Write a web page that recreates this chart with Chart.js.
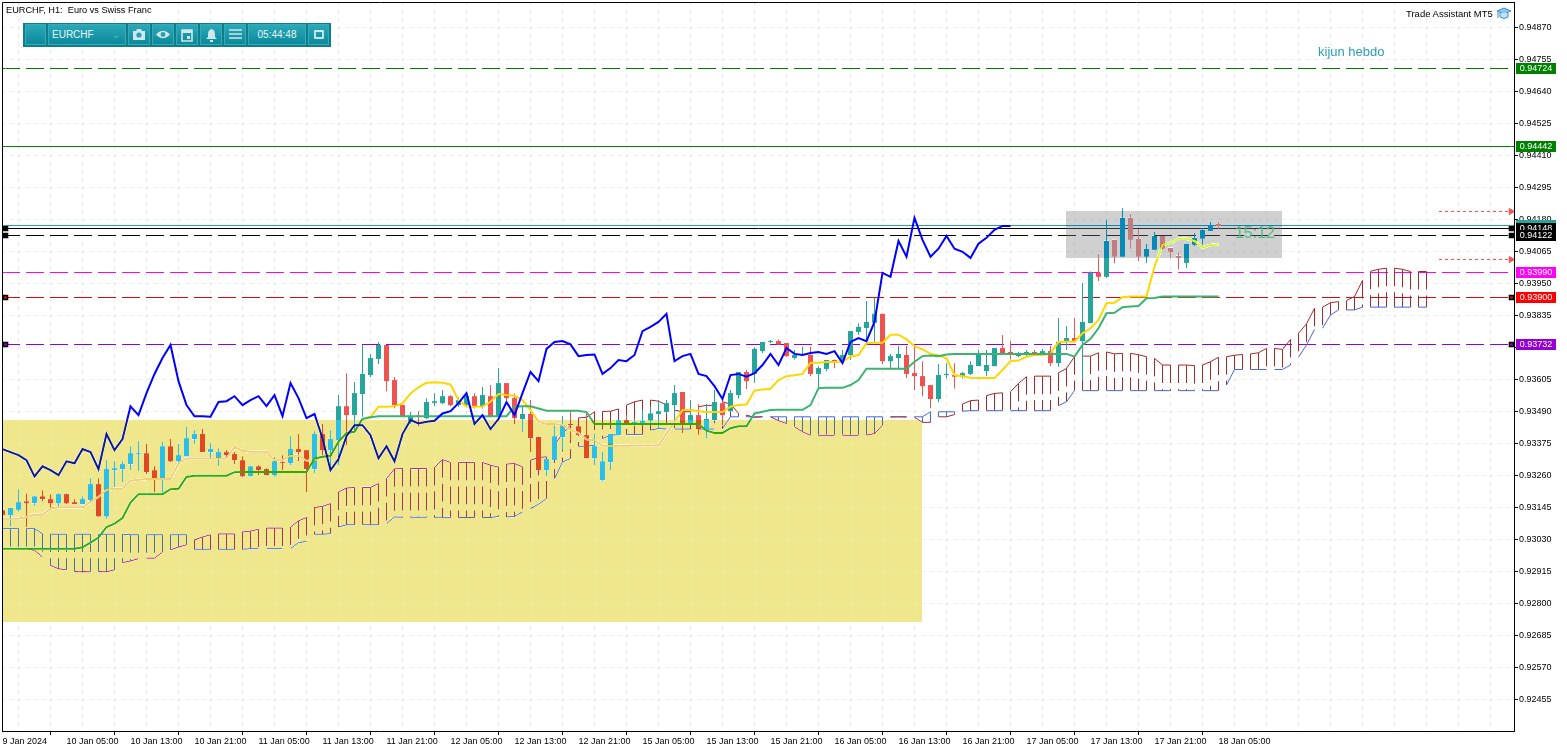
<!DOCTYPE html>
<html><head><meta charset="utf-8"><title>EURCHF, H1</title>
<script src="https://cdn.jsdelivr.net/npm/chart.js@4"></script>
<style>
html,body{margin:0;padding:0;background:#fff;overflow:hidden;width:1567px;height:752px}
canvas{position:absolute;left:0;top:0}
.t{position:absolute;font-family:"Liberation Sans",sans-serif;white-space:pre;line-height:12px}
#bar{position:absolute;left:23px;top:23px;width:308px;height:24px;background:#0f7d8c;box-sizing:border-box}
.b{position:absolute;top:1px;height:21px;box-sizing:border-box;border:1px solid #35aab8;background:linear-gradient(#2ba8b8,#0b8a9c);color:#e8f6f8;font:10px/19px "Liberation Sans",sans-serif;text-align:center}
.b svg{display:block;margin:3px auto 0}
</style></head><body>
<canvas id="c" width="1567" height="752"></canvas>
<div class="t" style="left:6px;top:4px;font-size:9.2px;color:#000">EURCHF, H1:  Euro vs Swiss Franc</div>
<div id="bar">
<div class="b" style="left:2px;width:21px"></div>
<div class="b" style="left:25px;width:78px;text-align:left;padding-left:3px">EURCHF<span style="position:absolute;right:5px;top:0;color:#5dbcc8">&#8964;</span></div>
<div class="b" style="left:105px;width:22px"><svg width="14" height="13" viewBox="0 0 14 13"><path d="M1 3h3l1-2h4l1 2h3v9H1z" fill="#cfe6ea"/><circle cx="7" cy="7" r="2.6" fill="#2a9fb0"/></svg></div>
<div class="b" style="left:129px;width:22px"><svg width="16" height="13" viewBox="0 0 16 13"><path d="M1 6.5Q8-1 15 6.5Q8 14 1 6.5z" fill="#cfe6ea"/><circle cx="8" cy="6.5" r="2.4" fill="#2a9fb0"/></svg></div>
<div class="b" style="left:153px;width:22px"><svg width="12" height="14" viewBox="0 0 12 14"><path d="M1 2h10v11H1z" fill="none" stroke="#cfe6ea" stroke-width="1.6"/><path d="M1 2h10v3H1zM6 8h3v3H6z" fill="#cfe6ea"/></svg></div>
<div class="b" style="left:177px;width:22px"><svg width="13" height="14" viewBox="0 0 13 14"><path d="M6.5 1Q10 2 10 6v3l2 2H1l2-2V6Q3 2 6.5 1zM5 12h3v2H5z" fill="#cfe6ea"/></svg></div>
<div class="b" style="left:201px;width:22px"><svg width="13" height="12" viewBox="0 0 13 12"><path d="M0 2h13M0 6h13M0 10h13" stroke="#cfe6ea" stroke-width="1.6"/></svg></div>
<div class="b" style="left:225px;width:58px">05:44:48</div>
<div class="b" style="left:285px;width:21px"><svg width="10" height="10" viewBox="0 0 10 10" style="margin-top:4px"><path d="M1 2h8v7H1z" fill="none" stroke="#fff" stroke-width="1.4"/></svg></div>
</div>
<div class="t" style="left:1406px;top:8px;font-size:9.5px;color:#000">Trade Assistant MT5</div>
<svg style="position:absolute;left:1496px;top:7px" width="16" height="14" viewBox="0 0 16 14"><path d="M8 1l7 3-7 3-7-3z" fill="#8cc8ee" stroke="#3a8fc8"/><path d="M4 6v4q4 3 8 0V6" fill="#bfe0f5" stroke="#3a8fc8"/><path d="M2 5v6" stroke="#3a8fc8"/></svg>
<div class="t" style="left:1318px;top:46px;font-size:13px;color:#2a9db8">kijun hebdo</div>
<script>
// Prices are in points (1 point = 0.00001)
const barOpen=[93135,93117,93137,93167,93161,93185,93175,93160,93193,93164,
93157,93171,93229,93113,93279,93283,93301,93338,93340,93279,
93250,93365,93311,93329,93391,93409,93344,93322,93344,93337,
93315,93257,93293,93283,93261,93308,93304,93355,93351,93283,
93409,93351,93387,93509,93477,93553,93621,93679,93729,93603,
93513,93455,93473,93466,93521,93520,93545,93513,93513,93545,
93509,93545,93473,93592,93538,93463,93481,93399,93279,93315,
93398,93445,93437,93405,93322,93243,93308,93405,93459,93445,
93449,93457,93481,93488,93513,93560,93448,93477,93423,93459,
93520,93491,93549,93632,93625,93707,93740,93743,93736,93682,
93693,93693,93625,93643,93675,93671,93693,93776,93790,93809,
93841,93671,93682,93693,93628,93617,93585,93535,93621,93621,
93617,93625,93653,93635,93653,93718,93704,93689,93693,93704,
93697,93707,93664,93743,93754,93743,93808,93988,93974,94107,
94046,94186,94111,94046,94071,94121,94078,94049,94024,94089,
94111,94139,94165];
const barHigh=[93141,93143,93211,93195,93185,93207,93193,93196,93195,93175,
93185,93250,93249,93315,93311,93311,93365,93383,93373,93293,
93380,93391,93373,93434,93423,93427,93376,93358,93351,93344,
93329,93293,93297,93286,93326,93333,93401,93409,93351,93419,
93445,93423,93549,93627,93596,93729,93697,93740,93729,93614,
93513,93488,93491,93538,93556,93567,93549,93541,93555,93556,
93578,93585,93645,93592,93555,93509,93531,93399,93319,93441,
93473,93491,93437,93483,93409,93344,93409,93459,93477,93459,
93495,93507,93531,93531,93585,93560,93531,93517,93517,93567,
93543,93567,93632,93639,93721,93740,93747,93749,93736,93711,
93723,93723,93653,93675,93677,93711,93779,93807,93887,93898,
93841,93697,93725,93725,93725,93671,93585,93661,93663,93663,
93633,93671,93711,93711,93718,93765,93743,93705,93711,93711,
93715,93725,93826,93797,93826,93952,93993,94057,94179,94107,
94221,94201,94147,94093,94136,94121,94078,94064,94093,94132,
94150,94172,94172];
const barLow=[93113,93077,93131,93075,93151,93167,93145,93147,93157,93157,
93157,93169,93113,93105,93219,93236,93279,93275,93265,93200,
93200,93308,93301,93329,93373,93344,93322,93293,93322,93301,
93254,93257,93261,93261,93257,93279,93297,93311,93200,93268,
93333,93275,93297,93369,93423,93471,93614,93661,93563,93502,
93471,93445,93437,93463,93509,93517,93509,93507,93509,93501,
93501,93469,93473,93531,93445,93416,93344,93279,93257,93315,
93351,93387,93405,93322,93297,93239,93279,93405,93441,93441,
93445,93447,93429,93483,93459,93413,93445,93406,93393,93455,
93441,93488,93537,93571,93593,93699,93735,93729,93687,93677,
93691,93617,93574,93635,93645,93663,93675,93765,93740,93740,
93661,93639,93639,93610,93567,93545,93502,93523,93609,93573,
93609,93621,93653,93617,93653,93697,93677,93685,93687,93693,
93693,93653,93651,93711,93741,93603,93807,93959,93970,94023,
94046,94075,94031,94024,94071,94071,94042,94000,94006,94085,
94089,94139,94143];
const barClose=[93117,93143,93164,93160,93185,93175,93160,93193,93160,93157,
93175,93229,93113,93283,93286,93301,93340,93340,93272,93250,
93365,93311,93333,93394,93409,93344,93355,93344,93333,93315,
93257,93293,93279,93261,93311,93304,93355,93344,93283,93409,
93351,93391,93509,93477,93556,93625,93682,93729,93599,93513,
93473,93473,93471,93524,93527,93545,93513,93531,93545,93509,
93549,93473,93592,93538,93466,93481,93394,93279,93319,93401,
93441,93441,93405,93322,93365,93311,93409,93459,93447,93453,
93457,93483,93491,93520,93556,93445,93477,93427,93463,93524,
93477,93556,93632,93599,93715,93740,93743,93731,93689,93693,
93695,93625,93646,93675,93671,93693,93779,93794,93812,93841,
93671,93689,93697,93625,93617,93581,93535,93621,93625,93615,
93628,93657,93697,93657,93718,93697,93693,93700,93704,93697,
93707,93664,93740,93754,93743,93812,93988,93974,94103,94046,
94186,94107,94046,94075,94121,94075,94064,94042,94093,94114,
94143,94157,94157];
const chikouSpan=[93355,93344,93333,93315,93257,93293,93279,93261,93311,93304,93355,93344,93283,93409,
93351,93391,93509,93477,93556,93625,93682,93729,93599,93513,
93473,93473,93471,93524,93527,93545,93513,93531,93545,93509,
93549,93473,93592,93538,93466,93481,93394,93279,93319,93401,
93441,93441,93405,93322,93365,93311,93409,93459,93447,93453,
93457,93483,93491,93520,93556,93445,93477,93427,93463,93524,
93477,93556,93632,93599,93715,93740,93743,93731,93689,93693,
93695,93625,93646,93675,93671,93693,93779,93794,93812,93841,
93671,93689,93697,93625,93617,93581,93535,93621,93625,93615,
93628,93657,93697,93657,93718,93697,93693,93700,93704,93697,
93707,93664,93740,93754,93743,93812,93988,93974,94103,94046,
94186,94107,94046,94075,94121,94075,94064,94042,94093,94114,
94143,94157,94157];
const tenkanLine=[93105,93105,93105,93111,93119,93119,93141,93146,93146,93146,
93146,93165,93183,93209,93212,93212,93241,93245,93247,93247,
93247,93247,93303,93321,93321,93321,93321,93321,93321,93363,
93349,93345,93345,93345,93315,93315,93331,93331,93313,93315,
93327,93331,93381,93413,93417,93463,93471,93507,93507,93509,
93519,93555,93577,93593,93595,93593,93587,93531,93508,93507,
93508,93525,93553,93549,93547,93531,93495,93453,93445,93445,
93441,93423,93413,93389,93387,93367,93367,93367,93367,93368,
93368,93368,93368,93411,93453,93495,93495,93491,93488,93488,
93488,93507,93513,93515,93565,93569,93572,93603,93617,93620,
93625,93665,93665,93668,93668,93670,93687,93693,93735,93737,
93737,93766,93766,93749,93725,93713,93697,93692,93681,93621,
93617,93611,93610,93610,93610,93639,93671,93673,93687,93693,
93693,93697,93740,93741,93741,93771,93789,93819,93879,93881,
93901,93903,93903,93903,94011,94089,94095,94111,94111,94103,
94079,94088,94090];
const kijunLine=[92997,92997,92997,92997,92997,92997,92997,92997,92997,92997,
93002,93019,93037,93075,93087,93107,93163,93193,93193,93193,
93193,93211,93212,93255,93259,93259,93259,93259,93259,93272,
93273,93273,93273,93273,93273,93273,93273,93273,93273,93321,
93327,93331,93381,93413,93417,93463,93469,93473,93473,93473,
93473,93473,93473,93473,93473,93473,93473,93473,93473,93473,
93473,93473,93473,93473,93507,93509,93509,93501,93493,93493,
93493,93493,93493,93488,93445,93445,93445,93445,93445,93445,
93445,93445,93445,93445,93445,93445,93445,93445,93421,93413,
93413,93430,93437,93437,93483,93489,93495,93496,93496,93496,
93496,93513,93574,93575,93575,93575,93585,93603,93644,93644,
93644,93644,93644,93644,93669,93689,93691,93689,93695,93697,
93697,93697,93697,93697,93697,93697,93697,93697,93697,93697,
93697,93697,93697,93697,93687,93729,93751,93789,93843,93845,
93865,93867,93869,93897,93898,93903,93903,93903,93903,93903,
93903,93903,93903];
const senkouA=[92997,92997,92997,92997,92991,92967,92937,92925,92921,92914,
92914,92914,92914,92914,92921,92947,92953,92961,92963,92963,
92985,92993,93003,93011,93029,93039,93047,93050,93050,93050,
93057,93060,93067,93071,93071,93071,93075,93097,93109,93145,
93149,93159,93201,93215,93217,93217,93217,93231,93249,93284,
93285,93285,93285,93285,93289,93317,93307,93307,93307,93307,
93307,93297,93290,93301,93303,93291,93315,93325,93327,93369,
93411,93441,93467,93469,93489,93490,93491,93499,93513,93525,
93531,93531,93527,93513,93495,93489,93489,93507,93512,93512,
93525,93517,93483,93477,93469,93471,93471,93457,93447,93435,
93417,93404,93403,93403,93403,93403,93403,93403,93405,93411,
93441,93470,93471,93470,93469,93451,93451,93471,93471,93479,
93517,93529,93531,93547,93555,93557,93561,93591,93615,93617,
93617,93617,93629,93645,93687,93689,93689,93701,93704,93697,
93699,93699,93694,93687,93681,93657,93657,93657,93657,93655,
93657,93669,93685,93687,93692,93695,93697,93701,93717,93717,
93713,93749,93771,93805,93861,93865,93881,93885,93889,93903,
93961,93994,94001,94005,94005,94001,93993,93993,93993];
const senkouB=[93069,93069,93069,93069,93069,93051,93049,93049,93049,93049,
93049,93049,93049,93049,93049,93049,93047,93047,93047,93047,
93047,93047,93047,93047,92995,92995,92995,92995,92995,92995,
92995,92997,92997,92997,92997,92997,92997,93019,93023,93049,
93049,93051,93075,93083,93083,93083,93083,93083,93087,93111,
93110,93110,93110,93110,93110,93110,93109,93109,93109,93109,
93109,93109,93113,93111,93113,93129,93141,93157,93177,93249,
93309,93321,93365,93365,93369,93393,93405,93407,93407,93407,
93407,93423,93429,93427,93427,93427,93427,93427,93427,93427,
93429,93471,93471,93471,93471,93471,93471,93471,93471,93471,
93471,93471,93471,93471,93471,93471,93471,93471,93471,93471,
93471,93471,93471,93471,93471,93471,93489,93489,93489,93489,
93491,93493,93493,93493,93493,93493,93493,93493,93493,93493,
93493,93493,93511,93525,93565,93565,93565,93565,93565,93565,
93565,93565,93565,93565,93565,93565,93565,93565,93565,93565,
93565,93565,93565,93585,93641,93641,93641,93641,93641,93641,
93641,93657,93685,93729,93785,93789,93837,93855,93855,93855,
93865,93865,93865,93865,93865,93865,93865,93865,93865];
const yTickPrices=[94870,94755,94640,94525,94410,94295,94180,94065,93950,93835,93720,93605,93490,93375,93260,93145,93030,92915,92800,92685,92570,92455];
const xTickLabels=['9 Jan 2024','10 Jan 05:00','10 Jan 13:00','10 Jan 21:00','11 Jan 05:00','11 Jan 13:00','11 Jan 21:00','12 Jan 05:00','12 Jan 13:00','12 Jan 21:00','15 Jan 05:00','15 Jan 13:00','15 Jan 21:00','16 Jan 05:00','16 Jan 13:00','16 Jan 21:00','17 Jan 05:00','17 Jan 13:00','17 Jan 21:00','18 Jan 05:00'];
const levelPrices=[94724,94442,94160,94148,94122,93990,93900,93732];
const levelColors=['#008000','#008000','#26a69a','#000000','#000000','#ff00ff','#d01010','#9400d3'];
const levelDashed=[true,false,false,false,true,true,true,true];
const levelHandles=[false,false,false,true,true,false,true,true];
const tagColors=['#008000','#008000','#26a69a','#000000','#000000','#ff00ff','#ff0000','#9400d3'];
const tagTexts=['0.94724','0.94442','','0.94148','0.94122','0.93990','0.93900','0.93732'];
const targetPrices=[94209,94036];
const targetBars=[179.56,188.56];
const boxBars=[[-0.0625,114.9],[132.9,159.9]];
const boxPrices=[[93459,92733],[94210,94042]];
const boxMasks=[[0x0f,0x19,0x73],[0x2f,0x2f,0x2f]];
const timerText='15:12',timerBar=156.56,timerPrice=94128;

const P=v=>v/1e5;
const xMin=-0.0625,xMax=188.9375;
const yMax=P(94961.6),yMin=P(92341.8);
const FONT={family:'"Liberation Sans",sans-serif',size:9};
const upColor='#26a69a',downColor='#ef5350';
const candleColors=barClose.map((c,i)=>c>=barOpen[i]?upColor:downColor);
const noPad=s=>{s.paddingLeft=0;s.paddingRight=0;s.paddingTop=0;s.paddingBottom=0;};

function hatch(pick,color){
  const pts=[];
  senkouA.forEach((a,i)=>{
    const b=senkouB[i];
    if(pick(a,b)){pts.push({x:i,y:P(Math.max(a,b))},{x:i,y:P(Math.min(a,b))},{x:i,y:null});}
  });
  return {type:'line',data:pts,borderColor:color,borderWidth:1,borderDash:[18,6],pointRadius:0,spanGaps:false,order:8,tension:0};
}
const gapSeg={borderColor:c=>c.p0DataIndex%3===2?'rgba(0,0,0,0)':undefined};
const datasets=[];
levelPrices.forEach((p,k)=>{
  const r=levelHandles[k]?2.9:0;
  datasets.push({type:'line',snap:true,order:9,
    data:[xMin,0.375,188.625,xMax].map(x=>({x,y:P(p)})),
    borderColor:levelColors[k],borderWidth:1,borderDash:levelDashed[k]?[18,6]:[],
    pointRadius:[0,r,r,0],pointStyle:'rect',pointBackgroundColor:levelColors[k],pointBorderColor:'#000',pointBorderWidth:1.5});
});
targetPrices.forEach(p=>{
  datasets.push({type:'line',snap:true,order:9,
    data:targetBars.map(x=>({x,y:P(p)})),
    borderColor:downColor,borderWidth:1,borderDash:[3,3],
    pointRadius:[0,3.5],pointStyle:'triangle',pointRotation:90,pointBackgroundColor:downColor,pointBorderColor:downColor});
});
datasets.push(hatch((a,b)=>a>b,'#a52a2a'));
datasets.push(hatch((a,b)=>a<=b,'#4169e1'));
datasets.push({type:'line',order:7,data:senkouA.map((v,i)=>({x:i,y:P(v)})),borderColor:'#a52a2a',borderWidth:1,pointRadius:0,segment:gapSeg});
datasets.push({type:'line',order:7,data:senkouB.map((v,i)=>({x:i,y:P(v)})),borderColor:'#4169e1',borderWidth:1,pointRadius:0,segment:gapSeg});
datasets.push({type:'bar',order:5,data:barHigh.map((h,i)=>({x:i,y:[P(barLow[i]),P(h)]})),backgroundColor:candleColors,barThickness:1,grouped:false,borderWidth:0,inflateAmount:0,borderSkipped:false});
datasets.push({type:'bar',order:4,data:barOpen.map((o,i)=>({x:i,y:[P(o),P(barClose[i])]})),backgroundColor:candleColors,barThickness:5,grouped:false,borderWidth:0,inflateAmount:0,borderSkipped:false,minBarLength:1});
datasets.push({type:'line',order:3,data:tenkanLine.map((v,i)=>({x:i,y:P(v)})),borderColor:'#ffd700',borderWidth:2,pointRadius:0});
datasets.push({type:'line',order:2,data:kijunLine.map((v,i)=>({x:i,y:P(v)})),borderColor:'#3cb371',borderWidth:2,pointRadius:0});
datasets.push({type:'line',order:1,data:chikouSpan.map((v,i)=>({x:i,y:P(v)})),borderColor:'#0000ff',borderWidth:2,pointRadius:0});

const chartPlugin={id:'mt5',
  beforeDatasetDraw(chart,args){
    const ds=chart.data.datasets[args.index];
    if(ds.snap){args.meta.data.forEach(p=>{p.y=Math.floor(p.y)+0.5;});}
  },
  afterDatasetsDraw(chart){
    const {ctx,scales:{x,y},chartArea:a}=chart;
    const dpr=chart.currentDevicePixelRatio||1;
    boxBars.forEach((bars,k)=>{
      const x0=Math.round(Math.max(x.getPixelForValue(bars[0]),a.left+1)*dpr);
      const x1=Math.round(x.getPixelForValue(bars[1])*dpr);
      const y0=Math.round(y.getPixelForValue(P(boxPrices[k][0]))*dpr);
      const y1=Math.round(y.getPixelForValue(P(boxPrices[k][1]))*dpr);
      const img=ctx.getImageData(x0,y0,x1-x0,y1-y0);
      const d=img.data,m=boxMasks[k];
      for(let i=0;i<d.length;i+=4){
        if(d[i+3]===0){d[i]=d[i+1]=d[i+2]=255;d[i+3]=255;}
        d[i]^=m[0];d[i+1]^=m[1];d[i+2]^=m[2];
      }
      ctx.putImageData(img,x0,y0);
    });
    ctx.save();
    ctx.font='16px "Liberation Sans",sans-serif';
    ctx.fillStyle='#55bb88';ctx.textAlign='center';ctx.textBaseline='middle';
    ctx.fillText(timerText,x.getPixelForValue(timerBar),y.getPixelForValue(P(timerPrice)));
    ctx.restore();
  },
  afterDraw(chart){
    const {ctx,scales:{y},chartArea:a}=chart;
    ctx.save();
    ctx.strokeStyle='#000';ctx.lineWidth=1;
    ctx.beginPath();
    ctx.moveTo(a.left+0.5,a.bottom);ctx.lineTo(a.left+0.5,a.top+0.5);ctx.lineTo(a.right+0.5,a.top+0.5);
    ctx.stroke();
    ctx.font='9px "Liberation Sans",sans-serif';ctx.textBaseline='middle';ctx.textAlign='center';
    levelPrices.forEach((p,k)=>{
      const py=Math.floor(y.getPixelForValue(P(p)))+0.5;
      ctx.fillStyle=tagColors[k];
      ctx.fillRect(a.right+2,py-5.5,40,11);
      if(tagTexts[k]){ctx.fillStyle='#fff';ctx.fillText(tagTexts[k],a.right+22,py+0.5);}
    });
    ctx.restore();
  }
};

new Chart(document.getElementById('c'),{
  type:'bar',
  data:{datasets},
  plugins:[chartPlugin],
  options:{
    responsive:false,animation:false,devicePixelRatio:1,
    layout:{autoPadding:false,padding:{left:2,top:2,right:0,bottom:0}},
    plugins:{legend:{display:false},title:{display:false},tooltip:{enabled:false}},
    events:[],
    scales:{
      x:{type:'linear',position:'bottom',min:xMin,max:xMax,offset:false,
        afterFit(s){s.height=21;noPad(s);},
        afterBuildTicks(s){const t=[];for(let v=0;v<=188;v+=4)t.push({value:v});s.ticks=t;},
        grid:{color:'#ececec',tickLength:4,tickColor:c=>(c.tick&&c.tick.label)?'#000':'rgba(0,0,0,0)',tickWidth:1},
        border:{color:'#000',width:1,dash:[4,4]},
        ticks:{autoSkip:false,maxRotation:0,minRotation:0,align:'start',padding:1,color:'#000',font:FONT,
          callback:v=>(v%8===0&&xTickLabels[v/8])||''}
      },
      y:{type:'linear',position:'right',min:yMin,max:yMax,
        afterFit(s){s.width=53;noPad(s);},
        afterBuildTicks(s){s.ticks=yTickPrices.map(v=>({value:P(v)}));},
        grid:{color:'#ececec',tickLength:4,tickColor:'#000',tickWidth:1},
        border:{color:'#000',width:1,dash:[4,4]},
        ticks:{autoSkip:false,padding:1,color:'#000',font:FONT,callback:v=>v.toFixed(5)}
      }
    }
  }
});
</script>
</body></html>
